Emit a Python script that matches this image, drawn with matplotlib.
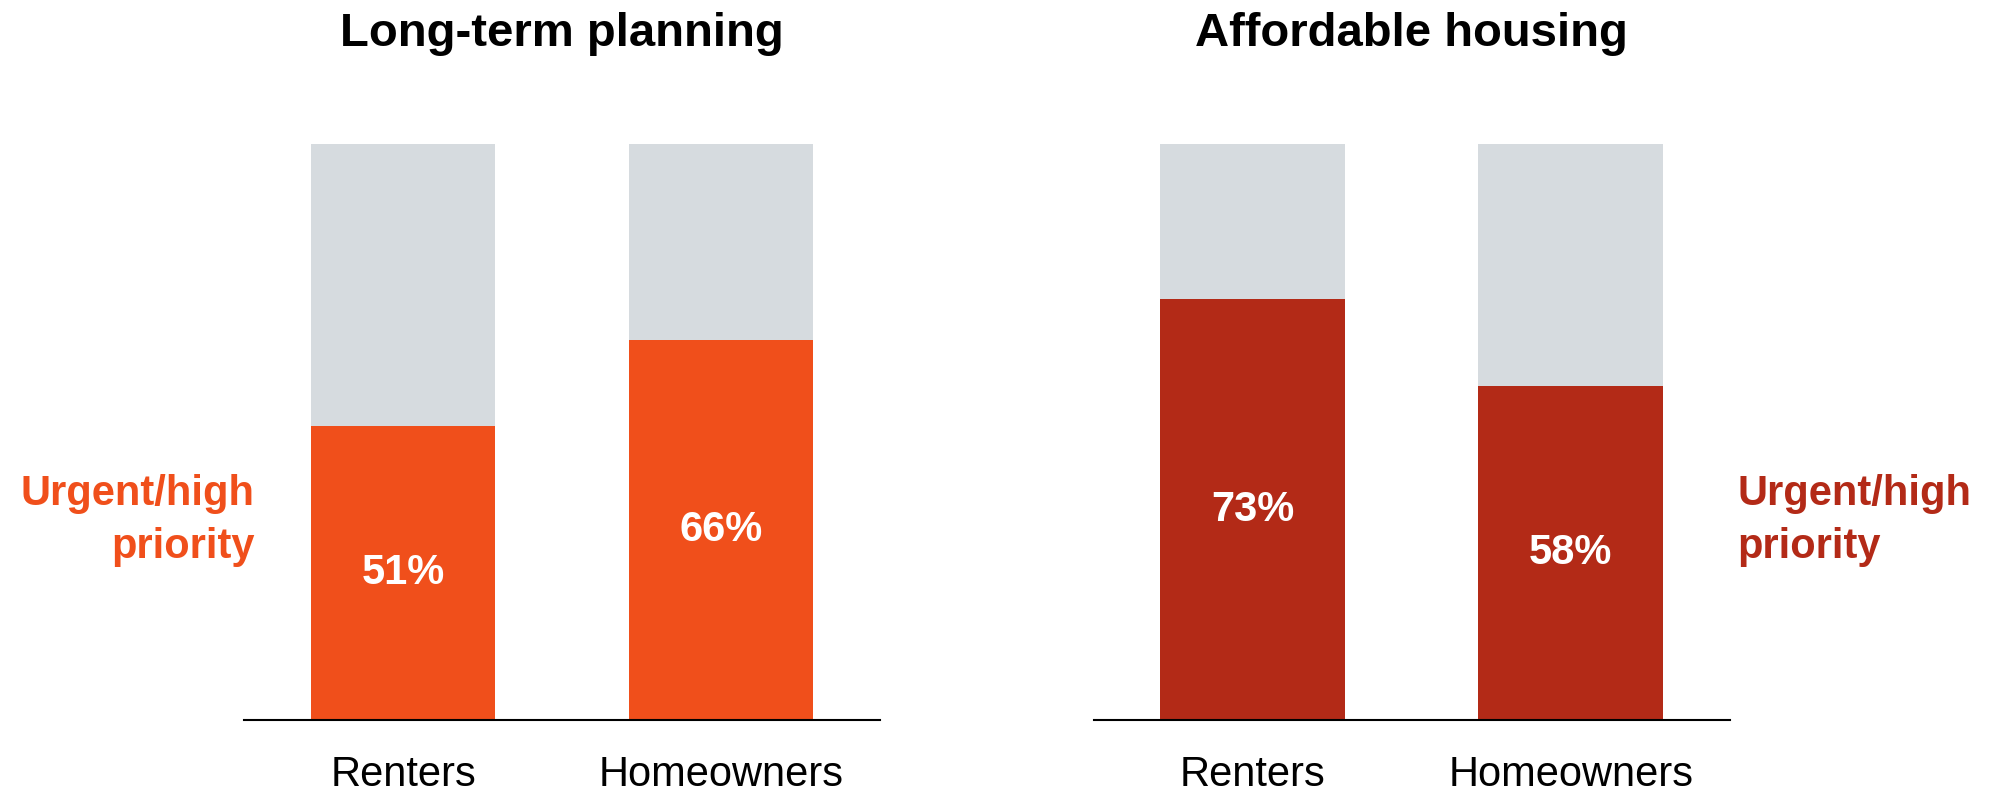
#!/usr/bin/env python3
import matplotlib
matplotlib.use('Agg')
import matplotlib.pyplot as plt

matplotlib.rcParams['font.family'] = ['Liberation Sans', 'DejaVu Sans']

groups = ['Renters', 'Homeowners']
titles = ['Long-term planning', 'Affordable housing']
long_term = [51, 66]
affordable = [73, 58]
label_text = 'Urgent/high\npriority'

orange = '#F04F1B'
darkred = '#B32A17'
grey = '#D6DBDF'

fig = plt.figure(figsize=(19.92, 7.92), dpi=100)

ax1 = fig.add_axes([0.1225, 0.0909, 0.3193, 0.7278])
ax2 = fig.add_axes([0.5490, 0.0909, 0.3193, 0.7278])

panels = [(ax1, long_term, orange, titles[0]),
          (ax2, affordable, darkred, titles[1])]

for ax, vals, col, title in panels:
    x = range(len(groups))
    ax.bar(x, [100] * len(vals), width=0.58, color=grey)
    ax.bar(x, vals, width=0.58, color=col)
    for xi, v in zip(x, vals):
        ax.text(xi, v / 2, '%d%%' % v, ha='center', va='center',
                color='white', fontsize=30, fontweight='bold')
        ax.text(xi, -11.5, groups[xi], ha='center', va='baseline',
                fontsize=30, clip_on=False)
    ax.set_xlim(-0.5, 1.5)
    ax.set_ylim(0, 100)
    for s in ['top', 'right', 'left']:
        ax.spines[s].set_visible(False)
    ax.spines['bottom'].set_linewidth(1.5)
    ax.set_xticks([])
    ax.set_yticks([])
    # title sits above the bars, centred on the panel
    ax.text(0.5, 119.0, title, ha='center', va='center', fontsize=34,
            fontweight='bold', clip_on=False)

ax1.text(-0.466, 34.6, label_text, ha='right', va='center', color=orange,
         fontsize=30, fontweight='bold', linespacing=1.4, clip_on=False)
ax2.text(1.525, 34.6, label_text, ha='left', va='center', color=darkred,
         fontsize=30, fontweight='bold', linespacing=1.4, clip_on=False)

plt.savefig('out.png', dpi=100)
